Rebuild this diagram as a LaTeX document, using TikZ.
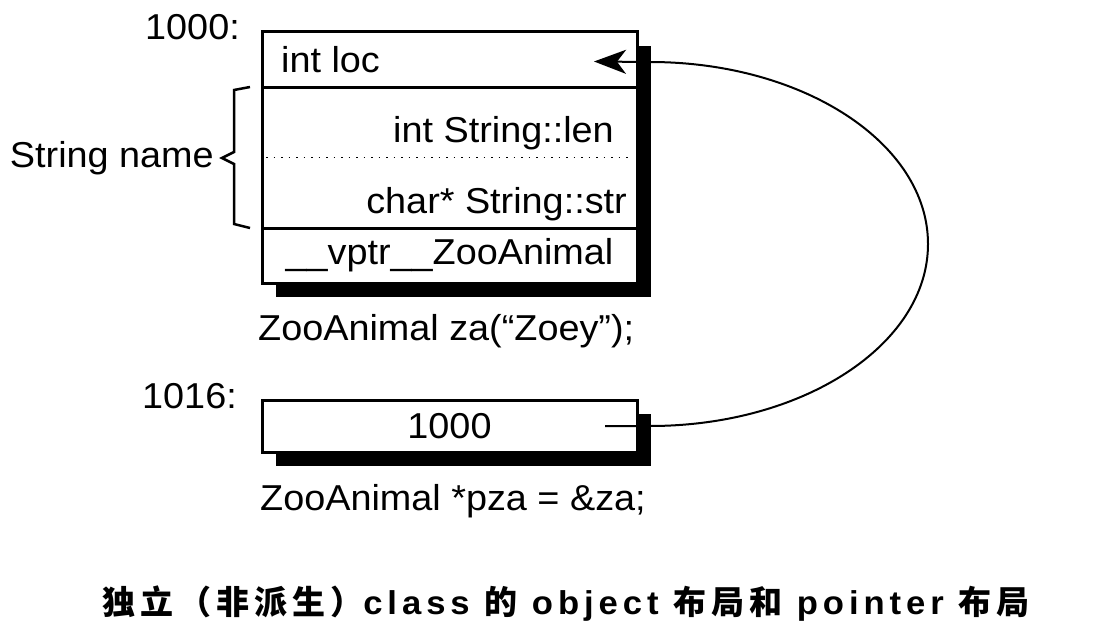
\documentclass[tikz,border=0pt]{standalone}
\usepackage{fontspec}
\setmainfont{Liberation Sans}[FakeStretch=1.05]
\newfontfamily\cjk{Noto Sans CJK SC}[LetterSpace=15]
\usetikzlibrary{positioning,shadows,arrows.meta}

\tikzset{
  txt/.style={inner sep=0pt, font=\fontsize{36}{43}\selectfont},
  cell/.style={draw, line width=3pt, fill=white, minimum width=375pt,
    inner sep=0pt, outer sep=0pt, font=\fontsize{36}{43}\selectfont,
    drop shadow={shadow xshift=14pt, shadow yshift=-14pt, fill=black, opacity=1}},
  ptr/.style={line width=2pt, -{Stealth[length=32pt,width=24pt,inset=9pt]}},
}

\begin{document}
\begin{tikzpicture}[x=1pt, y=-1pt]
	\useasboundingbox (0,0) rectangle (1097,634);
	% ZooAnimal za
	\node[cell, minimum height=55pt, anchor=north west] (loc) at (262,32) {};
	\node[cell, minimum height=141pt, below=0pt of loc] (name) {};
	\node[cell, minimum height=55pt, below=0pt of name] (vptr) {\_\_vptr\_\_ZooAnimal};
	\draw[line width=1.5pt, dash pattern=on 1.5pt off 6pt, shorten <=4pt, shorten >=4pt] (name.west) -- (name.east);
	\node[txt, anchor=west] (locT) at ([xshift=19pt]loc.west) {int loc};
	\node[txt, anchor=base east] (lenT) at ([shift={(-23,55)}]name.north east) {int String::len};
	\node[txt, anchor=base east] (strT) at ([shift={(-10,-15)}]name.south east) {char* String::str};
	\node[txt, anchor=base east] (addrA) at ([shift={(-22,8)}]loc.north west) {1000:};
	\node[txt, anchor=base west] (zaT) at ([shift={(-4,57)}]vptr.south west) {ZooAnimal za(“Zoey”);};
	% brace
	\draw[line width=2.5pt] ([shift={(-12,0)}]name.north west) -- ++(-16,3) -- ++(0,62) -- ++(-12,6) -- ++(12,6) -- ++(0,60) -- ++(16,4);
	\node[txt, anchor=east] (sname) at ([shift={(-48,71)}]name.north west) {String name};
	% ZooAnimal *pza
	\node[cell, minimum height=52pt, anchor=north west] (pza) at (262,400) {1000};
	\node[txt, anchor=base east] (addrB) at ([shift={(-25,8)}]pza.north west) {1016:};
	\node[txt, anchor=base west] (pzaT) at ([shift={(-2,58)}]pza.south west) {ZooAnimal *pza = \&za;};
	\draw[ptr] ([xshift=-32pt]pza.east) -- ([xshift=13pt]pza.east) arc[start angle=90, end angle=-90, x radius=278, y radius=182] -- ([shift={(-43,2)}]loc.east);
	% caption
	\node[inner sep=0pt, font=\fontsize{33}{40}\selectfont\bfseries\addfontfeatures{LetterSpace=15}] (cap) at (566,604) {{\cjk 独立（非派生）}class {\cjk 的} object {\cjk 布局和} pointer {\cjk 布局}};
\end{tikzpicture}
\end{document}
